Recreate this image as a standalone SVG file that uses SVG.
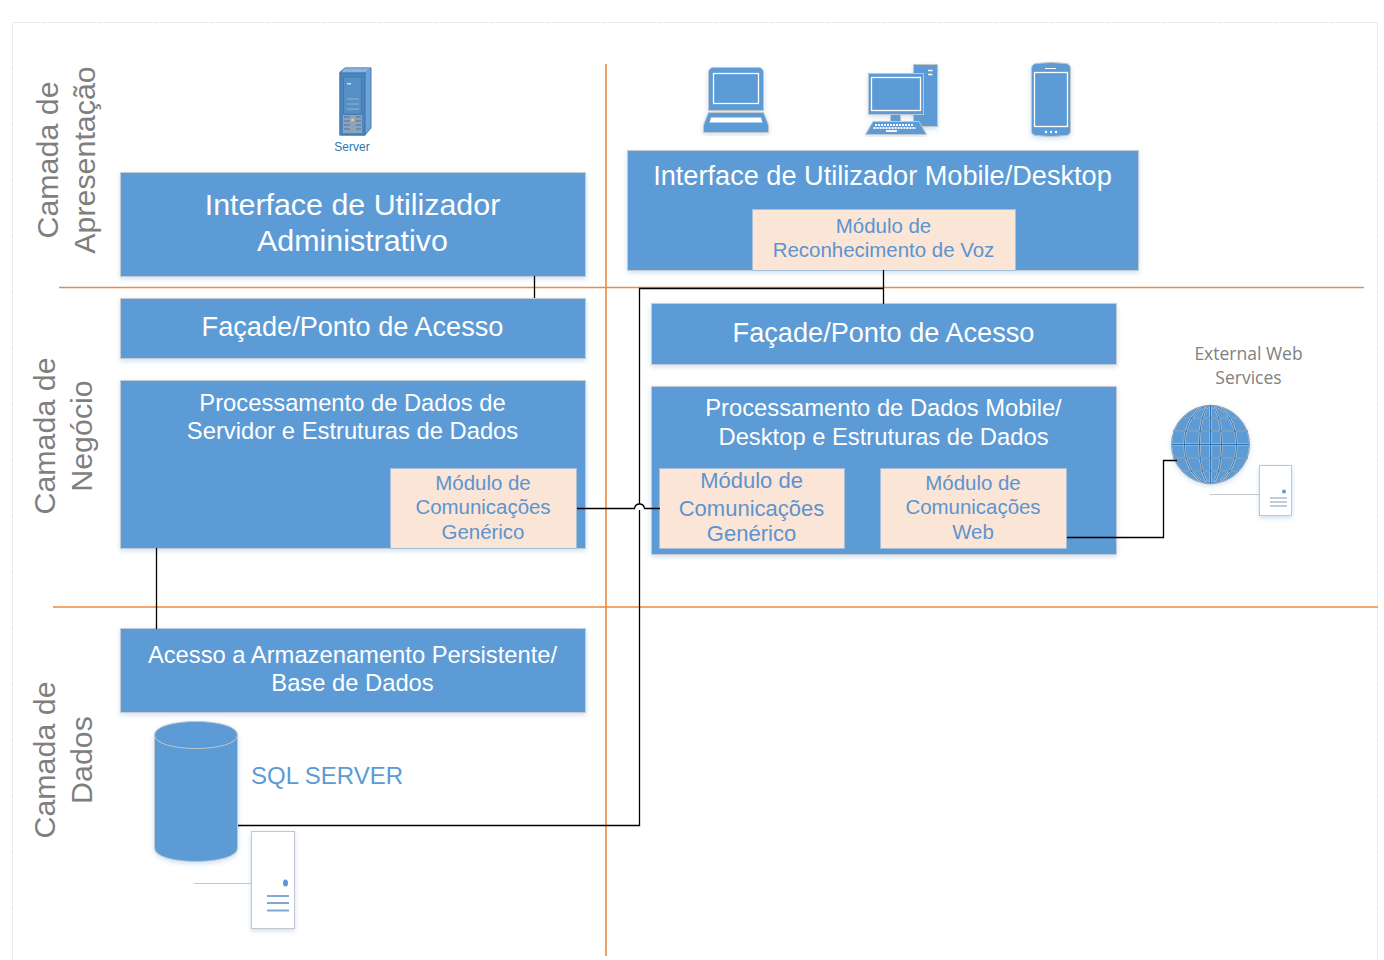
<svg xmlns="http://www.w3.org/2000/svg" width="1384" height="960" viewBox="0 0 1384 960">
<style>
text{font-family:"Liberation Sans",Arial,sans-serif;text-anchor:middle}
.b{fill:#5b9bd5;stroke:#c6ccd2;stroke-width:1;filter:url(#sh)}
.m{fill:#fbe5d6;stroke:#a9bfd6;stroke-width:1}
.w{fill:#fff}
.wt{fill:#fff;font-size:23.750px}
.wl{fill:#fff;font-size:30.400px}
.wm{fill:#fff;font-size:27.150px}
.mt{fill:#5b94cf;font-size:20.450px}
.mg{fill:#5b94cf;font-size:22px}
.lay{fill:#7f7f7f;font-size:30.400px}
.or{stroke:#ed8b3f;stroke-width:1.6;fill:none}
.c{stroke:#000;stroke-width:1.3;fill:none}
.wln{stroke:#fff;stroke-width:1.3;fill:none}
.ic{fill:#5b9bd5;stroke:#c3c7cc;stroke-width:1;filter:url(#sh)}
.doc{fill:#fff;stroke:#c3c7cc;stroke-width:1;filter:url(#sh)}
.gl{stroke:#c3c7cc;stroke-width:1;fill:none}
.dl{stroke:#7fa8d2;stroke-width:2;fill:none}
.ext{font-size:17.500px;fill:#7f7f7f;font-family:"Open Sans","DejaVu Sans",sans-serif}
</style>
<defs>
<filter id="sh" x="-10%" y="-10%" width="120%" height="125%"><feDropShadow dx="0" dy="2" stdDeviation="2.500" flood-color="#5b9bd5" flood-opacity=".3"/></filter>
<g id="grid" fill="none">
<path d="M1210.500 405.500V483.500M1171.500 444.500H1249.500"/>
<ellipse cx="1210.500" cy="444.500" rx="11" ry="39"/>
<ellipse cx="1210.500" cy="444.500" rx="26" ry="39"/>
<path d="M1182 418H1239M1173 431H1248M1173 458H1248M1182 471H1239"/>
</g>
</defs>
<rect width="1384" height="960" fill="#fff"/>
<path d="M12.500 960V22.500H1377.500V960" fill="none" stroke="#e6e8e8" stroke-width="1" stroke-dasharray="6 1"/>

<g id="separators">
<path class="or" d="M606 64V956M59 287.500H1364M53 607H1378"/>
</g>

<g id="layer-labels">
<text class="lay" transform="translate(58 160) rotate(-90)">Camada de</text>
<text class="lay" transform="translate(95 160) rotate(-90)">Apresentação</text>
<text class="lay" transform="translate(54.500 436) rotate(-90)">Camada de</text>
<text class="lay" transform="translate(91.500 436) rotate(-90)">Negócio</text>
<text class="lay" transform="translate(54.500 760) rotate(-90)">Camada de</text>
<text class="lay" transform="translate(91.500 760) rotate(-90)">Dados</text>
</g>

<g id="ui-admin">
<rect class="b" x="120.500" y="172.500" width="465" height="104"/>
<text class="wl" x="352.500" y="215">Interface de Utilizador</text>
<text class="wl" x="352.500" y="251">Administrativo</text>
</g>
<g id="ui-mobile">
<rect class="b" x="627.500" y="150.500" width="511" height="120"/>
<text class="wm" x="882.500" y="185">Interface de Utilizador Mobile/Desktop</text>
</g>
<g id="voice-module">
<rect class="m" x="752.500" y="209.500" width="263" height="61"/>
<text class="mt" x="883.500" y="232.500">Módulo de</text>
<text class="mt" x="883.500" y="256.500">Reconhecimento de Voz</text>
</g>
<g id="facade-server">
<rect class="b" x="120.500" y="298.500" width="465" height="60"/>
<text class="wm" x="352.500" y="336">Façade/Ponto de Acesso</text>
</g>
<g id="facade-mobile">
<rect class="b" x="651.500" y="303.500" width="465" height="61"/>
<text class="wm" x="883.500" y="342">Façade/Ponto de Acesso</text>
</g>
<g id="processing-server">
<rect class="b" x="120.500" y="380.500" width="465" height="168"/>
<text class="wt" x="352.500" y="411">Processamento de Dados de</text>
<text class="wt" x="352.500" y="439">Servidor e Estruturas de Dados</text>
</g>
<g id="comm-server">
<rect class="m" x="390.500" y="468.500" width="186" height="80"/>
<text class="mt" x="483" y="490">Módulo de</text>
<text class="mt" x="483" y="514">Comunicações</text>
<text class="mt" x="483" y="539">Genérico</text>
</g>
<g id="processing-mobile">
<rect class="b" x="651.500" y="386.500" width="465" height="168"/>
<text class="wt" x="883.500" y="416">Processamento de Dados Mobile/</text>
<text class="wt" x="883.500" y="445">Desktop e Estruturas de Dados</text>
</g>
<g id="comm-mobile">
<rect class="m" x="659.500" y="468.500" width="185" height="80"/>
<text class="mg" x="751.500" y="488">Módulo de</text>
<text class="mg" x="751.500" y="515.500">Comunicações</text>
<text class="mg" x="751.500" y="541">Genérico</text>
</g>
<g id="comm-web">
<rect class="m" x="880.500" y="468.500" width="186" height="80"/>
<text class="mt" x="973" y="490">Módulo de</text>
<text class="mt" x="973" y="514">Comunicações</text>
<text class="mt" x="973" y="539">Web</text>
</g>
<g id="data-access">
<rect class="b" x="120.500" y="628.500" width="465" height="84"/>
<text class="wt" x="352.500" y="663">Acesso a Armazenamento Persistente/</text>
<text class="wt" x="352.500" y="691">Base de Dados</text>
</g>

<g id="database">
<path class="ic" d="M154.500 735C154.500 717 237.500 717 237.500 735V848C237.500 866 154.500 866 154.500 848Z"/>
<path class="gl" d="M154.500 735C154.500 753 237.500 753 237.500 735"/>
<path d="M194 883.500H251" class="gl"/>
<rect class="doc" x="251.500" y="831.500" width="43" height="97"/>
<ellipse cx="285.500" cy="883" rx="2.500" ry="3.500" fill="#5b9bd5"/>
<path class="dl" d="M267 896H289M267 903H289M267 910.500H289"/>
<text x="327" y="784" style="font-size:24px;fill:#5b9bd5">SQL SERVER</text>
</g>

<g id="server">
<path d="M345 68H371V128L365 135H340V72Z" fill="#6fa3d8" stroke="#4a7fb5"/>
<path d="M345 68H371L365 73H340Z" fill="#8bb6e0" stroke="#4a7fb5" stroke-width=".6"/>
<rect x="340" y="73" width="25" height="62" fill="#4a86bf" stroke="#3f74a8"/>
<rect x="343.500" y="77" width="18" height="37" fill="#5790c4" stroke="#3f74a8" stroke-width=".7"/>
<path d="M347 99H359M347 104H359M347 109H359" stroke="#8fb7dd" stroke-width="1"/>
<rect x="347" y="83" width="4" height="1.500" fill="#cfe0f0"/>
<rect x="343" y="115" width="19" height="18" fill="#8aa4bd"/>
<path d="M344 117H350M356 117H361M344 121H350M356 121H361M344 125H350M356 125H361M344 129H350M356 129H361" stroke="#5b6f85" stroke-width="1"/>
<circle cx="352.500" cy="120" r="1.500" fill="#e9d26a"/>
<text x="352" y="151" style="font-size:12px;fill:#2e75b6">Server</text>
</g>

<g id="laptop">
<path class="ic" d="M708.500 73Q708.500 67.500 714 67.500H758Q763.500 67.500 763.500 73V110.500H708.500Z"/>
<rect class="wln" x="713.500" y="73.500" width="45" height="30"/>
<path class="ic" d="M708.500 112.500H763.500L768.500 125V132.500H703.500V125Z"/>
<path class="w" d="M711 117.500H761L762.500 122.500H709.500Z"/>
</g>

<g id="desktop">
<rect class="ic" x="913.500" y="64.500" width="24" height="62"/>
<path d="M928 70.500H932.500M928 74.500H932.500" stroke="#fff" stroke-width="1.600"/>
<rect class="ic" x="868.500" y="73.500" width="55" height="41"/>
<rect class="wln" x="871.500" y="77.500" width="49" height="33"/>
<rect class="ic" x="890.500" y="114.500" width="10" height="7"/>
<path class="ic" d="M873 121.500H919L926.500 134.500H865.500Z"/>
<path d="M875 125H914M873.500 128H916" stroke="#fff" stroke-width="1.800" stroke-dasharray="2 1"/>
<path d="M886 131H897" stroke="#fff" stroke-width="1.800"/>
</g>

<g id="phone">
<path class="ic" d="M1031.500 69Q1031.500 64 1036 63.500Q1051 61.500 1066 63.500Q1070.500 64 1070.500 69V131Q1070.500 135 1066 135.500Q1051 137.500 1036 135.500Q1031.500 135 1031.500 131Z"/>
<rect class="wln" x="1034.500" y="72.500" width="33" height="54"/>
<path d="M1045 68.500H1056" stroke="#fff" stroke-width="1"/>
<circle cx="1046" cy="132" r="1.200" class="w"/><circle cx="1051" cy="132" r="1.200" class="w"/><circle cx="1056" cy="132" r="1.200" class="w"/>
</g>

<g id="globe">
<circle class="ic" cx="1210.500" cy="444.500" r="39"/>
<use href="#grid" stroke="#c3c9cf" stroke-width="2.200"/>
<use href="#grid" stroke="#2f74b3" stroke-width="1"/>
<circle cx="1210.500" cy="444.500" r="39" fill="none" stroke="#8aa5bf" stroke-width="1"/>
</g>

<g id="external-services">
<path class="gl" d="M1210 494.500H1259.500"/>
<rect class="doc" x="1259.500" y="465.500" width="32" height="50"/>
<circle cx="1284" cy="491.500" r="2" fill="#5b9bd5"/>
<path class="dl" style="stroke:#a9bdd3;stroke-width:1.300" d="M1270 498H1287M1270 502H1287M1270 506H1287"/>
<text class="ext" x="1248.500" y="360">External Web</text>
<text class="ext" x="1248.500" y="384">Services</text>
</g>

<g id="connectors">
<path class="c" d="M534.500 276V298"/>
<path class="c" d="M883.500 270V304M883.500 288.500H639.500V504M639.500 510V825.500H238"/>
<path class="c" d="M577 508.500H634.500C635 505 637 504 639.500 504C642 504 644 505 644.500 508.500H660"/>
<path class="c" d="M156.500 548V629"/>
<path class="c" d="M1067 537.500H1163.500V460.500H1177"/>
</g>
</svg>
